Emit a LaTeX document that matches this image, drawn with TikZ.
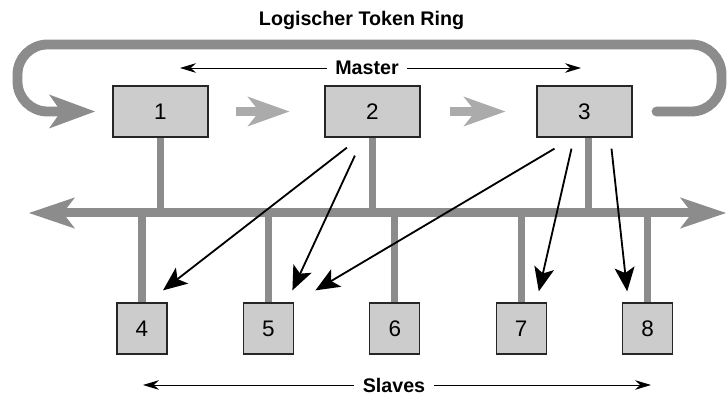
\documentclass[tikz,border=0pt]{standalone}
\usepackage{fontspec}
\setmainfont{Liberation Sans}
\usetikzlibrary{positioning,arrows.meta}
\definecolor{boxgray}{gray}{0.80}
\definecolor{busgray}{gray}{0.55}
\definecolor{hopgray}{gray}{0.67}
\tikzset{>={Stealth[length=0.4cm,width=0.24cm]},
  master/.style={draw=black!85, line width=0.9pt, fill=boxgray, minimum width=2.375cm, minimum height=1.275cm, font=\fontsize{16}{16}\selectfont},
  slave/.style={master, minimum width=1.25cm},
  heading/.style={font=\bfseries\fontsize{14}{14}\selectfont, inner sep=6pt},
  thinarrow/.style={->, line width=0.7pt},
  stem/.style={busgray, line width=5pt},
  bus/.style={busgray, line width=6.4pt, {Stealth[length=1.15cm,width=0.78cm,inset=0.3cm,line width=0pt]}-{Stealth[length=1.15cm,width=0.78cm,inset=0.3cm,line width=0pt]}},
  ring/.style={busgray, line width=7pt, line cap=round, rounded corners=0.75cm, -{Stealth[length=1.15cm,width=0.85cm,inset=0.3cm,line width=0pt]}},
  hop/.style={hopgray, line width=7pt, -{Stealth[length=1.05cm,width=0.75cm,inset=0.3cm,line width=0pt]}},
  poll/.style={line width=1.3pt, -{Stealth[length=0.6cm,width=0.5cm,inset=0.14cm]}}
}

\begin{document}
\begin{tikzpicture}
      \useasboundingbox (0,0) rectangle (18.2,-9.85);
      \node[heading] (title) at (9.04,-0.5) {Logischer Token Ring};
      \node[master] (n1) at (4.0125,-2.7875) {1};
      \node[master, right of=n1, node distance=5.3cm] (n2) {2};
      \node[master, right of=n2, node distance=5.3cm] (n3) {3};
      \node[slave] (n4) at (3.55,-8.2125) {4};
      \node[slave, right of=n4, node distance=3.16cm] (n5) {5};
      \node[slave, right of=n5, node distance=3.16cm] (n6) {6};
      \node[slave, right of=n6, node distance=3.16cm] (n7) {7};
      \node[slave, right of=n7, node distance=3.16cm] (n8) {8};
      \node[heading] (master) at (9.175,-1.7) {Master};
      \node[heading] (slaves) at (9.85,-9.625) {Slaves};
      \coordinate (aux4) at (4.5,-1.7);
      \coordinate (aux5) at (14.525,-1.7);
      \coordinate (aux6) at (3.575,-9.625);
      \coordinate (aux7) at (16.275,-9.625);
      \coordinate (busL) at (0.725,-5.325);
      \coordinate (busR) at (18.15,-5.325);
      \coordinate[right of=n3, node distance=1.8cm] (aux3);
      \coordinate[left of=n1, node distance=1.6375cm] (aux1);
      \draw[ring] (aux3) -| ++(1.625,1.675) -| ++(-17.6,-1.675) -- (aux1);
      \draw[hop, shorten <=0.675cm, shorten >=0.875cm] (n1) -- (n2);
      \draw[hop, shorten <=0.725cm, shorten >=0.775cm] (n2) -- (n3);
      \draw[thinarrow] (master) -- (aux4);
      \draw[thinarrow] (master) -- (aux5);
      \draw[thinarrow] (slaves) -- (aux6);
      \draw[thinarrow] (slaves) -- (aux7);
      \draw[stem] (n1.south) -- (n1.south |- busL);
      \draw[stem] (n2.south) -- (n2.south |- busL);
      \draw[stem] ([xshift=0.1cm]n3.south) -- ([xshift=0.1cm]n3.south |- busL);
      \draw[stem] (n4.north) -- (n4.north |- busL);
      \draw[stem] (n5.north) -- (n5.north |- busL);
      \draw[stem] (n6.north) -- (n6.north |- busL);
      \draw[stem] (n7.north) -- (n7.north |- busL);
      \draw[stem] (n8.north) -- (n8.north |- busL);
      \draw[bus] (busL) -- (busR);
      \draw[poll] ([shift={(-0.64,-0.25)}]n2.south) -- ([shift={(0.525,0.3)}]n4.north);
      \draw[poll] ([shift={(-0.44,-0.45)}]n2.south) -- ([shift={(0.6,0.3)}]n5.north);
      \draw[poll] ([shift={(-0.75,-0.275)}]n3.south) -- ([shift={(1.175,0.3)}]n5.north);
      \draw[poll] ([shift={(-0.325,-0.275)}]n3.south) -- ([shift={(0.44,0.275)}]n7.north);
      \draw[poll] ([shift={(0.675,-0.275)}]n3.south) -- ([shift={(-0.51,0.275)}]n8.north);
    \end{tikzpicture}
\end{document}
